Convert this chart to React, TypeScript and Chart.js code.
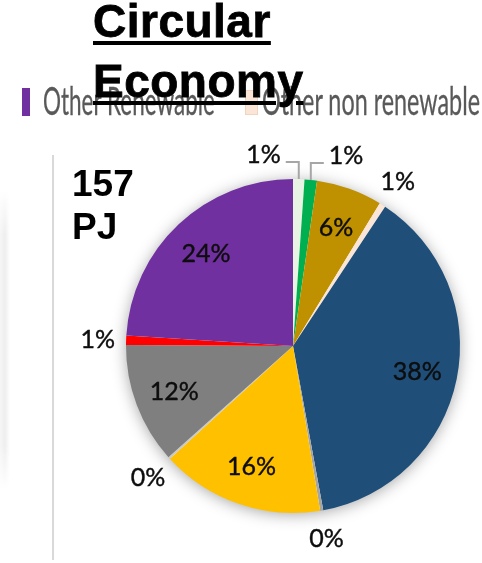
import React, { useEffect, useLayoutEffect, useRef } from 'react';
import { Chart, registerables } from 'chart.js';

Chart.register(...registerables);

// ---- data (going clockwise from 12 o'clock) ----
const categories = [
  'Category 1',
  'Category 2',
  'Category 3',
  'Other non renewable',
  'Category 5',
  'Category 6',
  'Category 7',
  'Category 8',
  'Category 9',
  'Category 10',
  'Other Renewable',
];
const values = [1.1, 1.2, 6.4, 0.6, 37.8, 0.3, 15.8, 0.2, 11.7, 0.9, 24.0];
const sliceColors = [
  '#E9F3E4',
  '#00B050',
  '#BF9000',
  '#FBE5D6',
  '#1F4E79',
  '#A5A5A5',
  '#FFC000',
  '#C9C9C9',
  '#7F7F7F',
  '#FF0000',
  '#7030A0',
];
const legendLabels = ['Other Renewable', 'Other non renewable'];
const titleLines = ['Circular', 'Economy'];
const totalLines = ['157', 'PJ'];

// ---- label placement (style, not data) ----
type Place = { mode: 'in' | 'out' | 'leader'; side?: number };
const labelPlacement: Place[] = [
  { mode: 'leader', side: -1 },
  { mode: 'leader', side: 1 },
  { mode: 'in' },
  { mode: 'out' },
  { mode: 'in' },
  { mode: 'out' },
  { mode: 'in' },
  { mode: 'out' },
  { mode: 'in' },
  { mode: 'out' },
  { mode: 'in' },
];

const pieDecor = {
  id: 'pieDecor',
  beforeDatasetsDraw(chart: any) {
    const meta = chart.getDatasetMeta(0);
    const a = meta.data[0];
    if (!a) return;
    const { x, y, outerRadius } = a.getProps(['x', 'y', 'outerRadius'], true);
    const ctx = chart.ctx;
    ctx.save();
    ctx.shadowColor = 'rgba(0,0,0,0.38)';
    ctx.shadowBlur = 16;
    ctx.shadowOffsetY = 2;
    ctx.fillStyle = '#ffffff';
    ctx.beginPath();
    ctx.arc(x, y, outerRadius - 1, 0, Math.PI * 2);
    ctx.fill();
    ctx.restore();
  },
  afterDatasetsDraw(chart: any) {
    const meta = chart.getDatasetMeta(0);
    const data = chart.data.datasets[0].data as number[];
    const total = data.reduce((s, v) => s + v, 0);
    const ctx = chart.ctx;
    ctx.save();
    ctx.font = '25px Lato';
    ctx.fillStyle = '#0d0d0d';
    const capHalf = 9;
    const draw = (t: string, x: number, y: number) => {
      ctx.lineWidth = 0.4;
      ctx.strokeStyle = '#0d0d0d';
      ctx.strokeText(t, x, y);
      ctx.fillText(t, x, y);
    };
    meta.data.forEach((arc: any, i: number) => {
      const p = arc.getProps(['x', 'y', 'startAngle', 'endAngle', 'outerRadius'], true);
      const mid = (p.startAngle + p.endAngle) / 2;
      const c = Math.cos(mid);
      const s = Math.sin(mid);
      const R = p.outerRadius;
      const text = Math.round((data[i] / total) * 100) + '%';
      const place = labelPlacement[i] || { mode: 'in' };
      ctx.textBaseline = 'alphabetic';
      if (place.mode === 'leader') {
        const side = place.side || 1;
        const ex = p.x + c * R;
        const ey = p.y + s * R;
        ctx.strokeStyle = '#A6A6A6';
        ctx.lineWidth = 2;
        ctx.beginPath();
        ctx.moveTo(ex, ey);
        ctx.lineTo(ex, ey - 17);
        ctx.lineTo(ex + side * 13, ey - 17);
        ctx.stroke();
        ctx.textAlign = side < 0 ? 'right' : 'left';
        draw(text, ex + side * 18, ey - 16);
      } else {
        const f = place.mode === 'in' ? 0.76 : 1.17;
        ctx.textAlign = 'center';
        draw(text, p.x + c * R * f, p.y + s * R * f + capHalf);
      }
    });
    ctx.restore();
  },
};

function Legend() {
  const refs = useRef<(HTMLSpanElement | null)[]>([]);
  const targetWidths = [172, 218];
  useLayoutEffect(() => {
    refs.current.forEach((el, i) => {
      if (!el) return;
      el.style.transform = 'none';
      const w = el.getBoundingClientRect().width;
      if (w > 0) el.style.transform = `scaleX(${targetWidths[i] / w})`;
    });
  }, []);
  const items = legendLabels.map((lab) => ({
    lab,
    color: sliceColors[categories.indexOf(lab)],
  }));
  const pos = [
    { box: { left: 22, top: 88, width: 8, height: 28 }, text: 43 },
    { box: { left: 245, top: 90, width: 13, height: 25 }, text: 262 },
  ];
  return (
    <>
      {items.map((it, i) => (
        <React.Fragment key={it.lab}>
          <div
            style={{
              position: 'absolute',
              ...pos[i].box,
              background: it.color,
              boxSizing: 'border-box',
              border: i === 1 ? '1px solid #F2D3BF' : 'none',
            }}
          />
          <span
            ref={(el) => {
              refs.current[i] = el;
            }}
            style={{
              position: 'absolute',
              left: pos[i].text,
              top: 80,
              fontFamily: 'Lato, sans-serif',
              fontSize: 38,
              lineHeight: '40px',
              color: '#595959',
              WebkitTextStroke: '0.3px #595959',
              whiteSpace: 'nowrap',
              transformOrigin: 'left top',
              display: 'inline-block',
            }}
          >
            {it.lab}
          </span>
        </React.Fragment>
      ))}
    </>
  );
}

export default function App() {
  const canvasRef = useRef<HTMLCanvasElement | null>(null);

  useEffect(() => {
    if (!canvasRef.current) return;
    const chart = new Chart(canvasRef.current, {
      type: 'pie',
      data: {
        labels: categories,
        datasets: [
          {
            data: values,
            backgroundColor: sliceColors,
            borderWidth: 0,
          },
        ],
      },
      options: {
        responsive: false,
        animation: false,
        devicePixelRatio: 1,
        layout: { padding: { left: 126, right: 22, top: 179, bottom: 50 } },
        plugins: {
          legend: { display: false },
          tooltip: { enabled: false },
        },
      },
      plugins: [pieDecor],
    });
    return () => chart.destroy();
  }, []);

  return (
    <div
      style={{
        position: 'absolute',
        left: 0,
        top: 0,
        width: 482,
        height: 563,
        overflow: 'hidden',
        background: '#ffffff',
      }}
    >
      <div
        style={{
          position: 'absolute',
          left: 0,
          top: 190,
          width: 10,
          height: 300,
          background: 'linear-gradient(to right, #f6f6f6, #eeeeee 50%, #ffffff)',
          WebkitMaskImage:
            'linear-gradient(to bottom, transparent, #000 15%, #000 85%, transparent)',
          maskImage: 'linear-gradient(to bottom, transparent, #000 15%, #000 85%, transparent)',
        }}
      />
      <div
        style={{
          position: 'absolute',
          left: 52,
          top: 155,
          width: 2,
          height: 405,
          background: '#D9D9D9',
        }}
      />
      <canvas
        ref={canvasRef}
        width={482}
        height={563}
        style={{ position: 'absolute', left: 0, top: 0, width: 482, height: 563 }}
      />
      <Legend />
      <div
        style={{
          position: 'absolute',
          left: 72,
          top: 162,
          fontFamily: '"Liberation Sans", Arial, sans-serif',
          fontWeight: 'bold',
          fontSize: 37,
          lineHeight: '43px',
          color: '#000',
        }}
      >
        {totalLines.map((t) => (
          <div key={t}>{t}</div>
        ))}
      </div>
      <div
        style={{
          position: 'absolute',
          left: 93,
          top: -9,
          fontFamily: '"Liberation Sans", Arial, sans-serif',
          fontWeight: 'bold',
          fontSize: 46,
          lineHeight: '60px',
          letterSpacing: 0.5,
          color: '#000',
          WebkitTextStroke: '0.8px #000',
          whiteSpace: 'nowrap',
        }}
      >
        {titleLines.map((t) => (
          <div key={t}>
            <span
              style={{
                textDecorationLine: 'underline',
                textDecorationThickness: '4px',
                textUnderlineOffset: '4px',
              }}
            >
              {t}
            </span>
          </div>
        ))}
      </div>
    </div>
  );
}
